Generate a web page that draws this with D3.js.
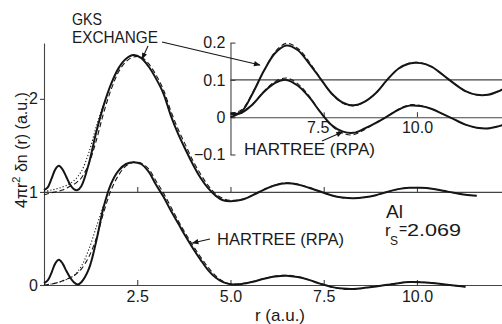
<!DOCTYPE html>
<html><head><meta charset="utf-8">
<script src="https://cdn.jsdelivr.net/npm/d3@7"></script>
<style>
html,body{margin:0;padding:0;background:#fff;}
svg{display:block;font-family:"Liberation Sans",Arial,sans-serif;}
</style></head>
<body><svg id="c" width="502" height="324"></svg>
<script>
// ---- data ----
const rGrid = [0,0.1,0.2,0.3,0.4,0.5,0.6,0.7,0.8,0.9,1.0,1.2,1.4,1.6,1.8,2.0,2.2,2.4,2.6,2.8,3.0,3.2,3.4,3.6,3.8,4.0,4.2,4.4,4.6,4.8,5.0,5.3,5.6,5.9,6.2,6.5,6.8,7.1,7.4,7.7,8.0,8.3,8.6,8.9,9.2,9.5,9.8,10.1,10.4,10.7,11.0,11.3,11.6,11.9,12.2,12.4];
// Hartree (RPA), solid
const hartreeSolid = [0.02,0.05,0.13,0.23,0.27,0.23,0.15,0.08,0.03,0.005,0.03,0.17,0.47,0.84,1.09,1.23,1.3,1.32,1.3,1.22,1.08,0.95,0.8,0.66,0.52,0.39,0.27,0.16,0.08,0.03,0.008,0.012,0.035,0.068,0.092,0.1,0.085,0.055,0.015,-0.02,-0.038,-0.042,-0.03,-0.015,0.002,0.02,0.031,0.03,0.022,0.008,-0.006,-0.02,-0.028,-0.03,-0.024,-0.018];
// Hartree, dashed comparison curve
const hartreeDashed = [0.0,0.005,0.01,0.02,0.03,0.045,0.06,0.08,0.1,0.13,0.17,0.3,0.5,0.78,1.02,1.18,1.28,1.32,1.31,1.25,1.12,0.99,0.84,0.69,0.55,0.42,0.3,0.19,0.1,0.04,0.012,0.015,0.036,0.07,0.096,0.105,0.09,0.058,0.015,-0.022,-0.043,-0.047,-0.033,-0.015,0.002,0.021,0.033,0.031,0.022,0.008,-0.006,-0.02,-0.028,-0.03,-0.024,-0.018];
// GKS exchange, solid (relative to its baseline of 1)
const gksSolid = [0.02,0.05,0.14,0.24,0.28,0.24,0.16,0.08,0.03,0.02,0.06,0.3,0.64,0.93,1.16,1.33,1.43,1.47,1.44,1.35,1.22,1.06,0.82,0.62,0.45,0.29,0.15,0.04,-0.04,-0.09,-0.1,-0.085,-0.035,0.025,0.072,0.092,0.08,0.045,0.005,-0.035,-0.06,-0.068,-0.058,-0.035,0.0,0.03,0.044,0.045,0.035,0.013,-0.01,-0.03,-0.04,-0.04,-0.03,-0.02];
const gksDashed = [-0.03,-0.02,-0.01,0.0,0.01,0.02,0.04,0.06,0.08,0.11,0.15,0.3,0.55,0.85,1.1,1.29,1.4,1.45,1.45,1.38,1.26,1.1,0.87,0.67,0.5,0.33,0.19,0.07,-0.02,-0.07,-0.09,-0.08,-0.033,0.025,0.076,0.098,0.085,0.05,0.006,-0.036,-0.062,-0.07,-0.058,-0.035,0.0,0.03,0.045,0.046,0.035,0.013,-0.01,-0.03,-0.04,-0.04,-0.03,-0.02];
// dotted small-r curves
const rDot = [0,0.2,0.4,0.6,0.8,1.0,1.2,1.4,1.6];
const hartreeDotted = [0.0,0.01,0.03,0.06,0.1,0.2,0.38,0.62,0.86];
const gksDotted = [0.0,0.02,0.04,0.07,0.12,0.22,0.42,0.7,0.95];

const gksOffsetMain = 1;     // GKS curve drawn on baseline 1
const gksOffsetInset = 0.1;  // and on 0.1 in the inset
const hartreeMainEnd = 11.4, gksMainEnd = 11.7, insetStart = 5.0;

const xTicks = [2.5, 5.0, 7.5, 10.0];
const yTicks = [0, 1, 2];
const insetYTicks = [0.2, 0.1, 0, -0.1];
const insetXTicks = [7.5, 10.0];

// ---- scales ----
const svg = d3.select("#c");
const x = d3.scaleLinear().domain([0, 12.28]).range([44, 502]);
const y = d3.scaleLinear().domain([0, 2.6]).range([285, 43]);
const xIn = d3.scaleLinear().domain([insetStart, 12.28]).range([x(insetStart), x(12.28)]);
const yIn = d3.scaleLinear().domain([-0.1, 0.2]).range([154.5, 42.6]);

const ink = "#151515", axisInk = "#444";

function pts(rs, vs, off, rmin, rmax){
  return rs.map((r,i)=>({r, v: vs[i]+off})).filter(d=>d.r>=rmin && d.r<=rmax);
}
const lineMain = d3.line().x(d=>x(d.r)).y(d=>y(d.v)).curve(d3.curveCatmullRom.alpha(0.5));
const lineIn = d3.line().x(d=>xIn(d.r)).y(d=>yIn(d.v)).curve(d3.curveCatmullRom.alpha(0.5));

// ---- main axes ----
const fmt = d3.format(".1f");
const gx0 = svg.append("g").attr("transform",`translate(0,${y(0)})`)
  .call(d3.axisBottom(x).tickValues(xTicks).tickFormat(fmt).tickSizeInner(-5).tickSizeOuter(0).tickPadding(6));
const gx1 = svg.append("g").attr("transform",`translate(0,${y(1)})`)
  .call(d3.axisBottom(x).tickValues(xTicks).tickFormat("").tickSizeInner(-5).tickSizeOuter(0));
const gy = svg.append("g").attr("transform",`translate(${x(0)},0)`)
  .call(d3.axisLeft(y).tickValues(yTicks).tickFormat(d3.format("d")).tickSize(4).tickSizeOuter(0).tickPadding(2));
[gx0,gx1,gy].forEach(g=>{
  g.selectAll("path,line").attr("stroke",axisInk).attr("stroke-width",1.1);
  g.selectAll("text").attr("font-size",16).attr("fill","#1a1a1a").attr("font-family","Liberation Sans, Arial, sans-serif");
});

// ---- main curves ----
function draw(g, line, data, w, dash){
  g.append("path").attr("d", line(data)).attr("fill","none").attr("stroke",ink)
   .attr("stroke-width",w).attr("stroke-dasharray",dash||null).attr("stroke-linejoin","round");
}
const main = svg.append("g");
draw(main, lineMain, pts(rDot, hartreeDotted, 0, 0, 2), 1.1, "1.2,2");
draw(main, lineMain, pts(rDot, gksDotted, gksOffsetMain, 0, 2), 1.1, "1.2,2");
draw(main, lineMain, pts(rGrid, hartreeDashed, 0, 0, hartreeMainEnd), 1.1, "5,3");
draw(main, lineMain, pts(rGrid, gksDashed, gksOffsetMain, 0, gksMainEnd), 1.1, "5,3");
draw(main, lineMain, pts(rGrid, hartreeSolid, 0, 0, hartreeMainEnd), 2);
draw(main, lineMain, pts(rGrid, gksSolid, gksOffsetMain, 0, gksMainEnd), 2);

// ---- inset ----
const inset = svg.append("g");
const gyi = inset.append("g").attr("transform",`translate(${xIn(insetStart)},0)`)
  .call(d3.axisLeft(yIn).tickValues(insetYTicks).tickFormat(d=> d===0 ? "0" : d3.format(".1f")(d))
        .tickSizeInner(-5).tickSizeOuter(0).tickPadding(5));
const gxi = inset.append("g").attr("transform",`translate(0,${yIn(0)})`)
  .call(d3.axisBottom(xIn).tickValues(insetXTicks).tickFormat(fmt).tickSizeInner(-5).tickSizeOuter(0).tickPadding(4));
gxi.selectAll(".tick text").filter(d=>d===7.5).attr("dx",-6);
inset.append("line").attr("x1",xIn(insetStart)).attr("x2",xIn.range()[1])
  .attr("y1",yIn(gksOffsetInset)).attr("y2",yIn(gksOffsetInset)).attr("stroke",axisInk).attr("stroke-width",1.1);
[gyi,gxi].forEach(g=>{
  g.selectAll("path,line").attr("stroke",axisInk).attr("stroke-width",1.1);
  g.selectAll("text").attr("font-size",16).attr("fill","#1a1a1a").attr("font-family","Liberation Sans, Arial, sans-serif");
});
draw(inset, lineIn, pts(rGrid, hartreeDashed, 0, insetStart, 13), 1.1, "5,3");
draw(inset, lineIn, pts(rGrid, gksDashed, gksOffsetInset, insetStart, 13), 1.1, "5,3");
draw(inset, lineIn, pts(rGrid, hartreeSolid, 0, insetStart, 13), 2);
draw(inset, lineIn, pts(rGrid, gksSolid, gksOffsetInset, insetStart, 13), 2);

// ---- annotations ----
const defs = svg.append("defs");
defs.append("marker").attr("id","ah").attr("viewBox","0 0 10 10").attr("refX",9).attr("refY",5)
  .attr("markerWidth",7).attr("markerHeight",6).attr("orient","auto")
  .append("path").attr("d","M0,1 L10,5 L0,9 Z").attr("fill",ink);
function arrow(x1,y1,x2,y2){
  svg.append("line").attr("x1",x1).attr("y1",y1).attr("x2",x2).attr("y2",y2)
    .attr("stroke",ink).attr("stroke-width",1.1).attr("marker-end","url(#ah)");
}
arrow(162, 42, xIn(5.79), yIn(0.14));
arrow(148, 46, x(2.63), y(2.44)+1);
arrow(210, 239, x(3.98), 243);
arrow(322, 141, xIn(8.0), yIn(-0.04));

function label(t, xx, yy, size, len){
  const e = svg.append("text").attr("x",xx).attr("y",yy).attr("font-size",size).attr("fill","#1a1a1a").text(t);
  if(len) e.attr("textLength",len).attr("lengthAdjust","spacingAndGlyphs");
  return e;
}
label("GKS", 72, 25, 17, 30);
label("EXCHANGE", 72, 43, 17, 86);
label("HARTREE (RPA)", 217, 245, 17, 127);
label("HARTREE (RPA)", 244, 155, 17, 131);
label("Al", 386, 218, 18, 17);
label("r", 385, 236, 17);
label("S", 390, 245, 12);
label("=", 399, 234, 14);
label("2.069", 407, 236, 17, 54);

// axis titles
const yt = svg.append("text").attr("transform","translate(27,150) rotate(-90)")
  .attr("text-anchor","middle").attr("font-size",16).attr("fill","#1a1a1a");
yt.append("tspan").text("4πr");
yt.append("tspan").attr("font-size",11).attr("dy",-7).text("2");
yt.append("tspan").attr("dy",7).text(" δn (r) (a.u.)");
svg.append("text").attr("x",280).attr("y",321).attr("text-anchor","middle").attr("font-size",17)
  .attr("fill","#1a1a1a").text("r (a.u.)");
</script></body></html>
